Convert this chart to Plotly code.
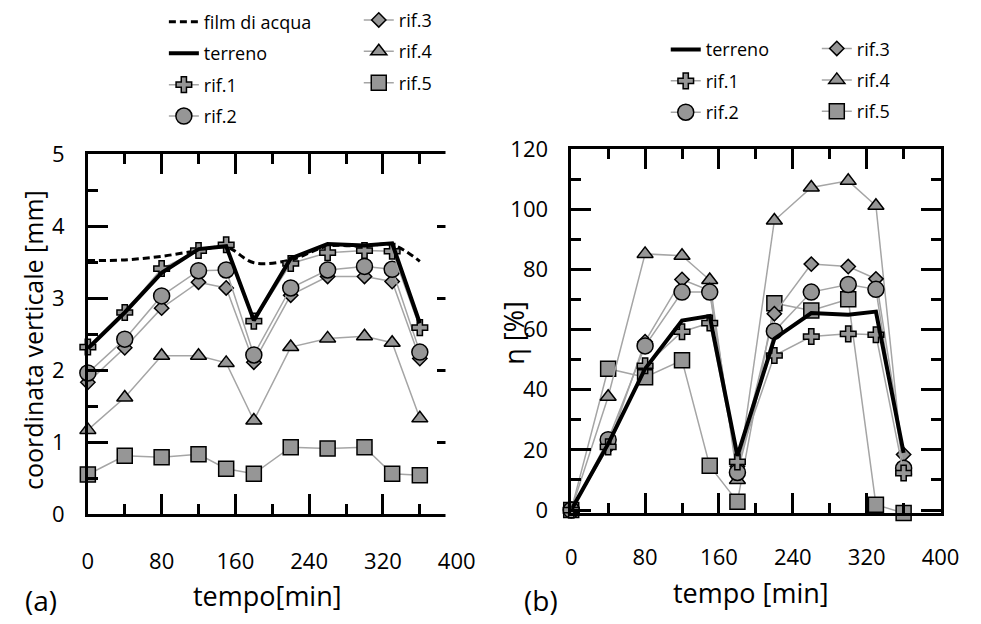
import plotly.graph_objects as go

# ---------------- data ----------------
tempo = [0, 40, 80, 120, 150, 180, 220, 260, 300, 330, 360]

# (a) coordinata verticale [mm]
film_acqua = [3.52, 3.53, 3.58, 3.66, 3.71, 3.49, 3.53, 3.72, 3.72, 3.74, 3.51]
terreno_a = [2.30, 2.80, 3.35, 3.68, 3.72, 2.69, 3.55, 3.75, 3.73, 3.76, 2.65]
rif1_a = [2.32, 2.80, 3.41, 3.66, 3.74, 2.68, 3.48, 3.63, 3.66, 3.65, 2.59]
rif2_a = [1.96, 2.43, 3.03, 3.38, 3.39, 2.21, 3.14, 3.39, 3.44, 3.40, 2.25]
rif3_a = [1.83, 2.31, 2.86, 3.22, 3.14, 2.11, 3.04, 3.30, 3.30, 3.23, 2.16]
rif4_a = [1.17, 1.62, 2.20, 2.20, 2.10, 1.30, 2.32, 2.44, 2.47, 2.38, 1.33]
rif5_a = [0.55, 0.81, 0.79, 0.83, 0.63, 0.56, 0.93, 0.91, 0.93, 0.56, 0.54]

# (b) eta [%]
terreno_b = [0, 22, 47, 63, 64.5, 18, 57, 65.5, 65, 66, 19]
rif1_b = [0, 21, 48, 59.3, 62.2, 16, 51.4, 57.7, 58.6, 58.3, 12.3]
rif2_b = [0, 23.4, 54.6, 72.5, 72.5, 12.5, 59.5, 72.5, 75.0, 73.4, 13.9]
rif3_b = [0, 21, 56, 76.7, 73, 14.5, 65.3, 81.8, 81.0, 76.9, 18.5]
rif4_b = [0, 37.7, 85.2, 84.6, 76.5, 10, 96.3, 107.3, 109.5, 101.2, 13]
rif5_b = [0, 47.0, 44.2, 49.8, 14.7, 2.8, 68.8, 66.4, 70.1, 1.8, -1.0]

x_ticks = [0, 80, 160, 240, 320, 400]
ya_ticks = [0, 1, 2, 3, 4, 5]
yb_ticks = [0, 20, 40, 60, 80, 100, 120]

# ---------------- style ----------------
W, H = 981, 624
FONT = "Open Sans"
GREY_FILL = "rgb(150,150,150)"
GREY_LINE = "rgb(165,165,165)"

ref_style = {
    "rif.1": dict(symbol="cross", size=13),
    "rif.2": dict(symbol="circle", size=16),
    "rif.3": dict(symbol="diamond", size=11),
    "rif.4": dict(symbol="triangle-up", size=14),
    "rif.5": dict(symbol="square", size=15),
}

# pixel geometry of the two panels
A_L, A_R, A_B, A_T = 84, 462.5, 523.3, 145
B_L, B_R, B_ZERO, B_T = 580, 959, 519, 140
YB_MAX = 120
YB_MIN = min(0, min(rif5_b))  # keep the slightly negative reading visible
yb_scale = (B_ZERO - B_T) / YB_MAX
B_B = B_ZERO - YB_MIN * yb_scale


def px_x(p):
    return p / W


def px_y(p):
    return 1 - p / H


fig = go.Figure()


def add_ref(name, x, y, xa, ya, legend, rank):
    st = ref_style[name]
    fig.add_trace(go.Scatter(
        x=x, y=y, name=name, mode="lines+markers", xaxis=xa, yaxis=ya,
        legend=legend, legendrank=rank, legendgroup=name + xa,
        line=dict(color=GREY_LINE, width=1.5),
        marker=dict(symbol=st["symbol"], size=st["size"], color=GREY_FILL,
                    line=dict(color="black", width=1.5)),
        cliponaxis=False,
    ))


# ----- panel (a) -----
fig.add_trace(go.Scatter(
    x=tempo, y=film_acqua, name="film di acqua", mode="lines", xaxis="x", yaxis="y",
    legend="legend", legendrank=1, legendgroup="film",
    line=dict(color="black", width=3, dash="7px,4px", shape="spline"),
    cliponaxis=False,
))
add_ref("rif.5", tempo, rif5_a, "x", "y", "legend2", 7)
add_ref("rif.4", tempo, rif4_a, "x", "y", "legend2", 6)
add_ref("rif.3", tempo, rif3_a, "x", "y", "legend2", 5)
add_ref("rif.2", tempo, rif2_a, "x", "y", "legend", 4)
add_ref("rif.1", tempo, rif1_a, "x", "y", "legend", 3)
fig.add_trace(go.Scatter(
    x=tempo, y=terreno_a, name="terreno", mode="lines", xaxis="x", yaxis="y",
    legend="legend", legendrank=2, legendgroup="terr_a",
    line=dict(color="black", width=4), cliponaxis=False,
))

# ----- panel (b) -----
add_ref("rif.5", tempo, rif5_b, "x2", "y2", "legend4", 7)
add_ref("rif.4", tempo, rif4_b, "x2", "y2", "legend4", 6)
add_ref("rif.3", tempo, rif3_b, "x2", "y2", "legend4", 5)
add_ref("rif.2", tempo, rif2_b, "x2", "y2", "legend3", 4)
add_ref("rif.1", tempo, rif1_b, "x2", "y2", "legend3", 3)
fig.add_trace(go.Scatter(
    x=tempo, y=terreno_b, name="terreno", mode="lines", xaxis="x2", yaxis="y2",
    legend="legend3", legendrank=2, legendgroup="terr_b",
    line=dict(color="black", width=4), cliponaxis=False,
))

tickfont = dict(family=FONT, size=22, color="black")
common_axis = dict(
    showline=True, linecolor="black", linewidth=2.5, mirror="allticks",
    ticks="inside", ticklen=20, tickwidth=2.5, tickcolor="black",
    showgrid=False, zeroline=False, tickfont=tickfont,
)


def minor(d):
    return dict(dtick=d, tick0=0, ticks="inside", ticklen=10, tickwidth=2.5, tickcolor="black")


fig.update_layout(
    width=W, height=H, margin=dict(l=0, r=0, t=0, b=0),
    paper_bgcolor="white", plot_bgcolor="white",
    font=dict(family=FONT, color="black"),
    xaxis=dict(domain=[px_x(A_L), px_x(A_R)], range=[0, 400], anchor="y",
               tickvals=x_ticks, ticklabelstandoff=26, minor=minor(40), **common_axis),
    yaxis=dict(domain=[px_y(A_B), px_y(A_T)], range=[0, 5], anchor="x",
               tickvals=ya_ticks, ticklabelstandoff=16, minor=minor(0.5), **common_axis),
    xaxis2=dict(domain=[px_x(B_L), px_x(B_R)], range=[0, 400], anchor="y2",
                tickvals=x_ticks, ticklabelstandoff=23, minor=minor(40), **common_axis),
    yaxis2=dict(domain=[px_y(B_B), px_y(B_T)], range=[YB_MIN, YB_MAX], anchor="x2",
                tickvals=yb_ticks, ticklabelstandoff=16, minor=minor(10), **common_axis),
)

leg_common = dict(font=dict(family=FONT, size=18, color="black"), bgcolor="rgba(0,0,0,0)",
                  borderwidth=0, xanchor="left", yanchor="top", tracegroupgap=5,
                  itemwidth=30, itemclick=False, itemdoubleclick=False)
fig.update_layout(
    legend=dict(x=px_x(162), y=px_y(-13), **leg_common),
    legend2=dict(x=px_x(362), y=px_y(-15), **leg_common),
    legend3=dict(x=px_x(677), y=px_y(16), **leg_common),
    legend4=dict(x=px_x(832), y=px_y(15), **leg_common),
)

# crop of the right edge of panel (a)
fig.add_shape(type="rect", xref="paper", yref="paper",
              x0=px_x(451), x1=px_x(472), y0=px_y(532), y1=px_y(135),
              fillcolor="white", line=dict(width=0), layer="above")

ann = [
    dict(text="coordinata verticale [mm]", x=px_x(27), y=px_y(340), textangle=-90, size=25),
    dict(text="η [%]", x=px_x(521), y=px_y(333), textangle=-90, size=27),
    dict(text="tempo[min]", x=px_x(268), y=px_y(609), textangle=0, size=27),
    dict(text="tempo [min]", x=px_x(764), y=px_y(606), textangle=0, size=27),
    dict(text="(a)", x=px_x(36), y=px_y(614), textangle=0, size=28),
    dict(text="(b)", x=px_x(549), y=px_y(614), textangle=0, size=28),
]
for a in ann:
    fig.add_annotation(text=a["text"], x=a["x"], y=a["y"], xref="paper", yref="paper",
                       xanchor="center", yanchor="middle", textangle=a["textangle"],
                       showarrow=False, font=dict(family=FONT, size=a["size"], color="black"))

fig.write_html("out.html")
